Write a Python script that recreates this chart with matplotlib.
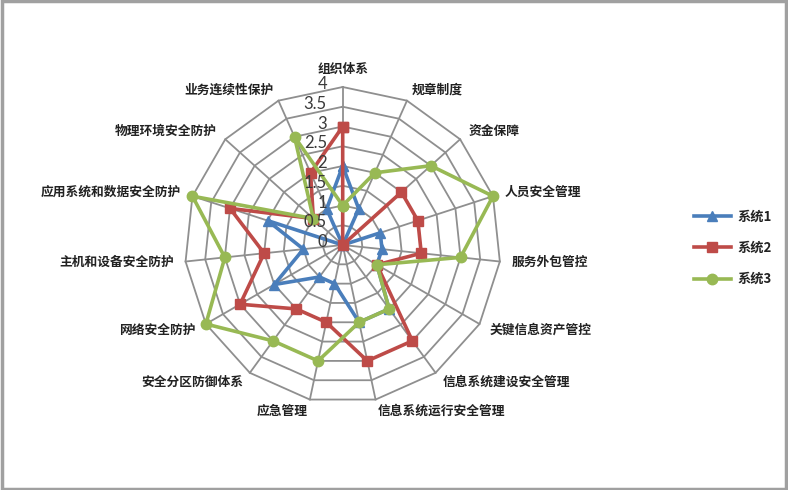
import numpy as np
import matplotlib
matplotlib.use("Agg")
import matplotlib.pyplot as plt
from matplotlib.patches import Rectangle
from matplotlib.lines import Line2D

plt.rcParams['font.family'] = ['Noto Sans CJK SC', 'DejaVu Sans']

categories = ["组织体系", "规章制度", "资金保障", "人员安全管理", "服务外包管控",
              "关键信息资产管控", "信息系统建设安全管理", "信息系统运行安全管理",
              "应急管理", "安全分区防御体系", "网络安全防护", "主机和设备安全防护",
              "应用系统和数据安全防护", "物理环境安全防护", "业务连续性保护"]
series_names = ["系统1", "系统2", "系统3"]
system1 = [2, 1, 0, 1, 1, 1, 2, 2, 1, 1, 2, 1, 2, 0, 1]
system2 = [3, 0, 2, 2, 2, 1, 3, 3, 2, 2, 3, 2, 3, 1, 2]
system3 = [1, 2, 3, 4, 3, 1, 2, 2, 3, 3, 4, 3, 4, 1, 3]
ticks = [0, 0.5, 1, 1.5, 2, 2.5, 3, 3.5, 4]
tick_labels = ["0", "0.5", "1", "1.5", "2", "2.5", "3", "3.5", "4"]
rmax = 4

W, H = 788, 490
fig = plt.figure(figsize=(W / 100, H / 100), dpi=100)
cx, cy, ppu = 342.7, 245.0, 39.5
L = 5.5
side = 2 * L * ppu
ax = fig.add_axes([(cx - side / 2) / W, (H - cy - side / 2) / H, side / W, side / H])
ax.set_xlim(-L, L)
ax.set_ylim(-L, L)
ax.set_aspect('equal')
ax.axis('off')

n = len(categories)
ang = np.deg2rad(np.arange(n) * 360.0 / n)
sx, sy = np.sin(ang), np.cos(ang)

grid_c = '#8f8f8f'
for t in ticks[1:]:
    xs = np.append(t * sx, t * sx[0])
    ys = np.append(t * sy, t * sy[0])
    ax.plot(xs, ys, color=grid_c, lw=1.3, zorder=1)
for i in range(n):
    ax.plot([0, rmax * sx[i]], [0, rmax * sy[i]], color=grid_c, lw=1.3, zorder=1)

colors = ['#4a7ebb', '#be4b48', '#98b954']
markers = ['^', 's', 'o']
msizes = [7, 7.5, 7.5]
for vals, c, m, ms, name in zip([system1, system2, system3], colors, markers, msizes, series_names):
    v = np.array(vals, dtype=float)
    xs = np.append(v * sx, v[0] * sx[0])
    ys = np.append(v * sy, v[0] * sy[0])
    ax.plot(xs, ys, color=c, lw=2.6, marker=m, ms=ms, mec=c, mfc=c, zorder=3, label=name)

# radial tick labels
for t, lab in zip(ticks, tick_labels):
    ax.text(-0.4, t + 0.07, lab, ha='right', va='center', fontsize=12,
            color='#3a3a3a', family=['Lato', 'DejaVu Sans'], zorder=4)

# category labels
for i, lab in enumerate(categories):
    a = np.rad2deg(ang[i])
    if i == 0:
        ax.text(0, 4.45, lab, ha='center', va='center', fontsize=9.2, fontweight='bold', color='#222222')
        continue
    r = 4.3
    x, y = r * sx[i], r * sy[i]
    ha = 'left' if a < 180 else 'right'
    ax.text(x, y, lab, ha=ha, va='center', fontsize=9.2, fontweight='bold', color='#222222')

# legend
handles = [Line2D([0], [0], color=c, lw=2.6, marker=m, ms=ms, mec=c, mfc=c)
           for c, m, ms in zip(colors, markers, msizes)]
leg = fig.legend(handles, series_names, loc='upper left',
                 bbox_to_anchor=(682 / W, 1 - 198 / H), frameon=False,
                 fontsize=9.5, handlelength=2.8, labelspacing=1.3, handletextpad=0.5)
for txt in leg.get_texts():
    txt.set_fontweight('bold')
    txt.set_color('#222222')

# figure border
fig.patches.append(Rectangle((0.002, 0.003), 0.995, 0.994, transform=fig.transFigure,
                             fill=False, edgecolor='#a0a0a0', lw=2.5))

fig.savefig('out.png', dpi=100)
